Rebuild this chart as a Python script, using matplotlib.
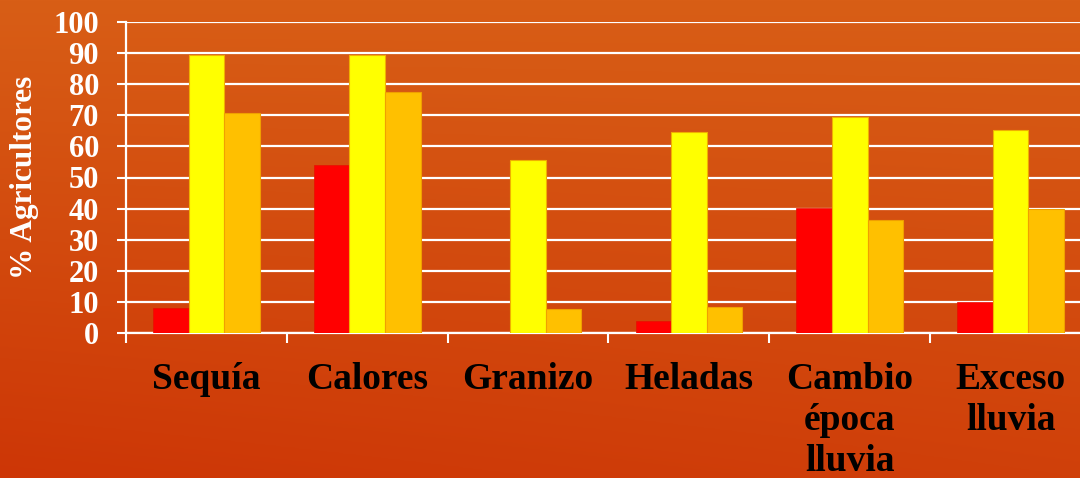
import numpy as np
import matplotlib
matplotlib.use("Agg")
import matplotlib.pyplot as plt
from matplotlib.ticker import FixedLocator, NullFormatter

# Data
categories = ["Sequía", "Calores", "Granizo", "Heladas", "Cambio\népoca\nlluvia", "Exceso\nlluvia"]
serie_roja = [8.0, 54.1, 0.0, 3.9, 40.2, 10.0]
serie_amarilla = [89.3, 89.4, 55.6, 64.7, 69.6, 65.4]
serie_naranja = [70.7, 77.5, 7.7, 8.4, 36.3, 39.8]
y_ticks = list(range(0, 101, 10))

plt.rcParams["font.family"] = ["Liberation Serif", "DejaVu Serif"]
plt.rcParams["font.weight"] = "bold"

W, H = 1080, 478
fig = plt.figure(figsize=(W / 100, H / 100), dpi=100)

# Orange-red gradient background
bg = fig.add_axes([0, 0, 1, 1], zorder=-10)
yy, xx = np.mgrid[0:1:200j, 0:1:400j]
top = np.array([216, 94, 22]) / 255.0
bot = np.array([205, 54, 6]) / 255.0
t = np.clip(0.75 * yy + 0.25 * (1 - xx) * yy, 0, 1)[..., None]
img = top * (1 - t) + bot * t
bg.imshow(img, aspect="auto", extent=[0, 1, 0, 1], origin="upper")
bg.set_axis_off()

left, right_px, top_px, zero_px = 126, 1091, 22, 333
ax = fig.add_axes([left / W, (H - zero_px) / H, (right_px - left) / W, (zero_px - top_px) / H])
ax.set_facecolor("none")

x = np.arange(len(categories))
w = 0.2214
ax.bar(x - w, serie_roja, w, color="#FF0000", edgecolor="#E81000", linewidth=0.5, zorder=3)
ax.bar(x, serie_amarilla, w, color="#FFFF00", edgecolor="#F0B000", linewidth=0.8, zorder=3)
ax.bar(x + w, serie_naranja, w, color="#FFC000", edgecolor="#F0A000", linewidth=0.8, zorder=3)

ax.set_xlim(-0.5, len(categories) - 0.5)
ax.set_ylim(0, 100)
ax.set_yticks(y_ticks)
ax.set_yticklabels([str(v) for v in y_ticks])

ax.grid(axis="y", color="white", linewidth=1.6, zorder=1)
ax.set_axisbelow(True)

for s in ["top", "right"]:
    ax.spines[s].set_visible(False)
for s in ["left", "bottom"]:
    ax.spines[s].set_color("white")
    ax.spines[s].set_linewidth(1.6)

# Category boundaries as ticks, names centred under each group
ax.xaxis.set_major_locator(FixedLocator(np.arange(-0.5, len(categories), 1.0)))
ax.xaxis.set_major_formatter(NullFormatter())
ax.xaxis.set_minor_locator(FixedLocator(x))
ax.set_xticklabels(categories, minor=True, fontsize=27, fontweight="bold",
                   color="black", linespacing=1.22)
ax.tick_params(axis="x", which="major", length=7.5, width=1.5, color="white", direction="out")
ax.tick_params(axis="x", which="minor", length=0, pad=21)
ax.tick_params(axis="y", length=6.5, width=1.5, color="white", direction="out",
               labelsize=22, labelcolor="white", pad=13)
for lab in ax.get_yticklabels():
    lab.set_fontweight("bold")

fig.text(25 / W, (H - 177) / H, "% Agricultores", rotation=90, ha="center", va="center",
         fontsize=22.5, fontweight="bold", color="white")

fig.savefig("out.png", dpi=100)
